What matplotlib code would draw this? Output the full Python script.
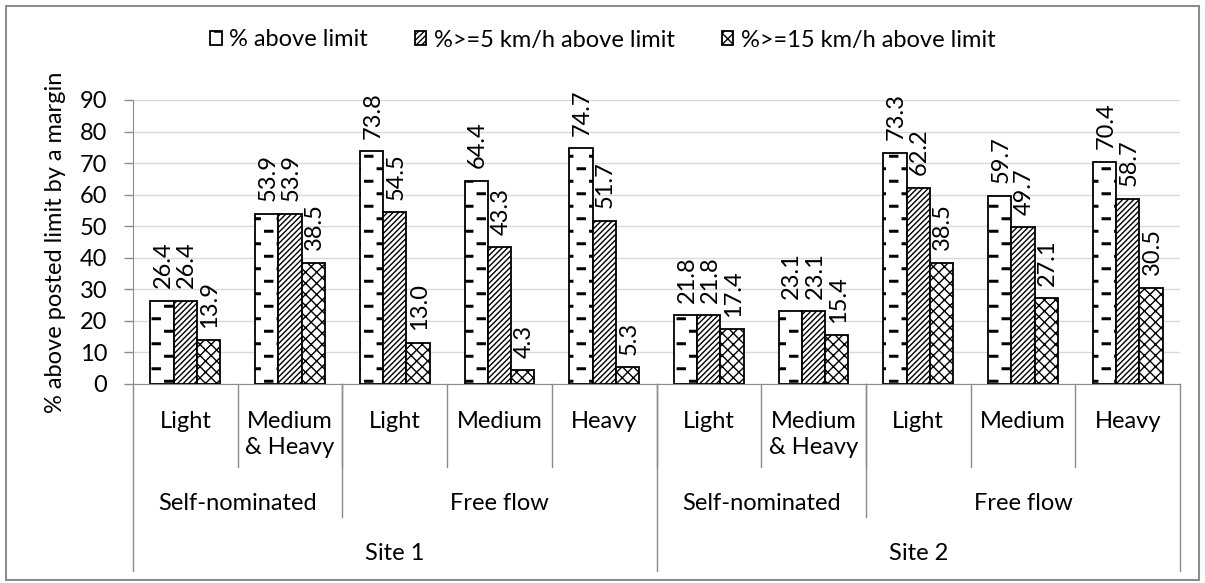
import numpy as np
import matplotlib.pyplot as plt
import matplotlib.hatch as mhatch
from matplotlib.path import Path
from matplotlib.patches import Rectangle

plt.rcParams['font.family'] = ['Lato', 'DejaVu Sans']
plt.rcParams['hatch.linewidth'] = 1.0

cats = ['Light', 'Medium\n& Heavy', 'Light', 'Medium', 'Heavy',
        'Light', 'Medium\n& Heavy', 'Light', 'Medium', 'Heavy']
groups = ['Self-nominated', 'Free flow', 'Self-nominated', 'Free flow']
group_span = [(0, 1), (2, 4), (5, 6), (7, 9)]
sites = ['Site 1', 'Site 2']
site_span = [(0, 4), (5, 9)]

above = [26.4, 53.9, 73.8, 64.4, 74.7, 21.8, 23.1, 73.3, 59.7, 70.4]
above5 = [26.4, 53.9, 54.5, 43.3, 51.7, 21.8, 23.1, 62.2, 49.7, 58.7]
above15 = [13.9, 38.5, 13.0, 4.3, 5.3, 17.4, 15.4, 38.5, 27.1, 30.5]
series = ['% above limit', '%>=5 km/h above limit', '%>=15 km/h above limit']
hatches = ['-.', '//////', 'xxx']

# Excel-like "dashed horizontal" fill: staggered short dashes
_get_path = mhatch.get_path


def dashed_path(pattern, density=6):
    if pattern != '-.':
        return _get_path(pattern, density)
    verts, codes = [], []
    for k in range(8):
        y = 0.0625 + k * 0.125
        off = 0.0 if k % 2 == 0 else 0.125
        for j in range(4):
            x0 = 0.0225 + off + j * 0.25
            verts += [(x0, y - 0.008), (x0 + 0.08, y - 0.008), (x0 + 0.08, y + 0.008),
                      (x0, y + 0.008), (x0, y - 0.008)]
            codes += [Path.MOVETO, Path.LINETO, Path.LINETO, Path.LINETO, Path.CLOSEPOLY]
    return Path(np.array(verts), codes)


mhatch.get_path = dashed_path

fig = plt.figure(figsize=(12.05, 5.83), dpi=100)
fig.patches.append(Rectangle((6 / 1205, 3 / 583), 1193 / 1205, 574 / 583,
                             transform=fig.transFigure, fill=False,
                             edgecolor='#8c8c8c', lw=1.5))
ax = fig.add_axes([133 / 1205, 1 - 384 / 583, 1047 / 1205, 284 / 583])

fs = 17
x = np.arange(len(cats))
w = 0.222
for i, vals in enumerate([above, above5, above15]):
    bars = ax.bar(x + (i - 1) * w, vals, w, color='white', edgecolor='black',
                  hatch=hatches[i], lw=1.3, label=series[i], zorder=3)
    for b, v in zip(bars, vals):
        ax.annotate(f'{v:.1f}', (b.get_x() + b.get_width() / 2, v), xytext=(1, 9),
                    textcoords='offset points', rotation=90, ha='center', va='bottom',
                    fontsize=fs, zorder=4)

ax.set_xlim(-0.5, 9.5)
ax.set_ylim(0, 90)
ax.set_yticks(range(0, 91, 10))
ax.tick_params(axis='y', length=6.5, width=1, color='#8c8c8c', labelsize=fs, pad=12)
ax.set_xticks([])
ax.grid(axis='y', color='#d9d9d9', lw=1, zorder=0)
for s in ['top', 'right']:
    ax.spines[s].set_visible(False)
ax.spines['bottom'].set_color('#8c8c8c')
ax.spines['left'].set_color('#8c8c8c')
ax.set_ylabel('% above posted limit by a margin', fontsize=fs, labelpad=10)

tr = ax.get_xaxis_transform()
lc = '#8c8c8c'
# level 1 labels and separators
for xi, c in enumerate(cats):
    ax.text(xi, -0.095, c, transform=tr, ha='center', va='top', fontsize=fs,
            linespacing=1.3)
for b in range(1, 10):
    ax.plot([b - 0.5, b - 0.5], [0, -0.291], transform=tr, color=lc, lw=1, clip_on=False)
# level 2
for g, (a, b) in zip(groups, group_span):
    ax.text((a + b) / 2, -0.42, g, transform=tr, ha='center', va='center', fontsize=fs)
for b in [2, 7]:
    ax.plot([b - 0.5, b - 0.5], [0, -0.47], transform=tr, color=lc, lw=1, clip_on=False)
# level 3
for s, (a, b) in zip(sites, site_span):
    ax.text((a + b) / 2, -0.597, s, transform=tr, ha='center', va='center', fontsize=fs)
for b in [0, 5, 10]:
    ax.plot([b - 0.5, b - 0.5], [0, -0.659], transform=tr, color=lc, lw=1, clip_on=False)

ax.legend(loc='center', bbox_to_anchor=(0.5, 1 - 40 / 583), bbox_transform=fig.transFigure,
          ncol=3, frameon=False, fontsize=fs, handlelength=0.5, handleheight=0.5,
          handletextpad=0.3, columnspacing=2.0)

fig.savefig('out.png', dpi=100)
